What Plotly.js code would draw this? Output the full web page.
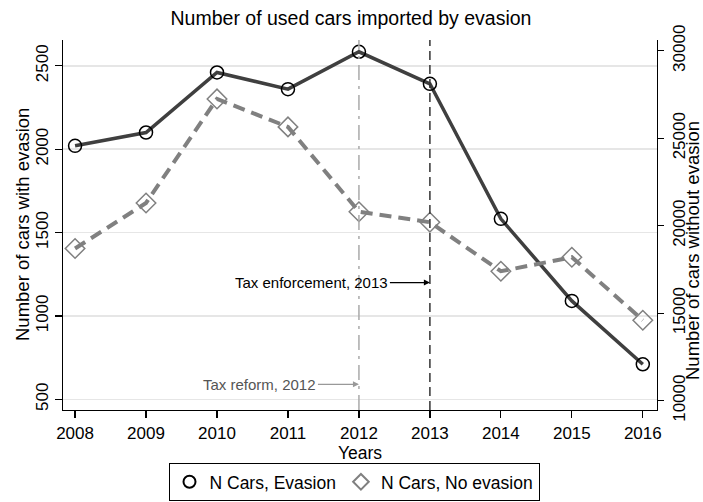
<!DOCTYPE html>
<html>
<head>
<meta charset="utf-8">
<script src="https://cdn.plot.ly/plotly-3.0.1.min.js"></script>
<style>html,body{margin:0;padding:0;background:#fff;}#chart{width:703px;height:502px;}</style>
</head>
<body>
<div id="chart"></div>
<script>
const years = [2008, 2009, 2010, 2011, 2012, 2013, 2014, 2015, 2016];
const carsEvasion = [2020, 2100, 2460, 2360, 2584, 2392, 1582, 1090, 710];
const carsNoEvasion = [18700, 21300, 27250, 25650, 20800, 20200, 17400, 18200, 14600];
const leftTicks = [500, 1000, 1500, 2000, 2500];
const rightTicks = [10000, 15000, 20000, 25000, 30000];
const eventYears = [2012, 2013];
const eventLabels = ['Tax reform, 2012', 'Tax enforcement, 2013'];
const eventLabelLevels = [590, 1200];
const seriesNames = ['N Cars, Evasion', 'N Cars, No evasion'];
const axisTitles = ['Number of cars with evasion', 'Number of cars without evasion'];

const FONT = 'Liberation Sans, Arial, sans-serif';

const traces = [
  {
    x: years, y: carsEvasion, type: 'scatter', mode: 'lines+markers',
    name: seriesNames[0], showlegend: false, yaxis: 'y',
    line: {color: '#3f3f3f', width: 3.5},
    marker: {symbol: 'circle-open', size: 13, color: '#000', line: {width: 1.5}}
  },
  {
    x: years, y: carsNoEvasion, type: 'scatter', mode: 'lines+markers',
    name: seriesNames[1], showlegend: false, yaxis: 'y2',
    line: {color: '#808080', width: 4, dash: '12px,7px'},
    marker: {symbol: 'diamond-open', size: 15, color: '#808080', line: {width: 1.5}}
  },
  {
    x: [null], y: [null], type: 'scatter', mode: 'markers', name: seriesNames[0],
    marker: {symbol: 'circle-open', size: 12, color: '#000', line: {width: 1.5}}
  },
  {
    x: [null], y: [null], type: 'scatter', mode: 'markers', name: seriesNames[1],
    marker: {symbol: 'diamond-open', size: 15, color: '#808080', line: {width: 1.3}}
  }
];

const shapes = [
  {type: 'line', xref: 'x', yref: 'paper', x0: eventYears[0], x1: eventYears[0], y0: 0, y1: 1,
   line: {color: '#aaaaaa', width: 1.5, dash: 'longdashdot'}},
  {type: 'line', xref: 'x', yref: 'paper', x0: eventYears[1], x1: eventYears[1], y0: 0, y1: 1,
   line: {color: '#333333', width: 1.5, dash: '9px,5px'}}
];

const annotations = [
  {x: eventYears[0], y: eventLabelLevels[0], xref: 'x', yref: 'y', text: eventLabels[0],
   showarrow: true, ax: -99, ay: 0, arrowhead: 2, arrowsize: 1, arrowwidth: 1.2,
   arrowcolor: '#999999', font: {family: FONT, size: 15, color: '#555555'}},
  {x: eventYears[1], y: eventLabelLevels[1], xref: 'x', yref: 'y', text: eventLabels[1],
   showarrow: true, ax: -118, ay: 0, arrowhead: 2, arrowsize: 1, arrowwidth: 1.2,
   arrowcolor: '#000000', font: {family: FONT, size: 15, color: '#000000'}},
  {x: (22 - 63) / 594, y: 0.5, xref: 'paper', yref: 'paper', text: axisTitles[0],
   showarrow: false, textangle: -90, xanchor: 'center', yanchor: 'middle',
   font: {family: FONT, size: 18.5, color: '#000'}},
  {x: (693 - 63) / 594, y: (410 - 251) / 370, xref: 'paper', yref: 'paper', text: axisTitles[1],
   showarrow: false, textangle: -90, xanchor: 'center', yanchor: 'middle',
   font: {family: FONT, size: 18.5, color: '#000'}}
];

const layout = {
  width: 703, height: 502,
  margin: {l: 63, r: 46, t: 40, b: 92, autoexpand: false},
  paper_bgcolor: '#fff', plot_bgcolor: '#fff',
  font: {family: FONT, size: 17, color: '#000'},
  title: {text: 'Number of used cars imported by evasion', font: {family: FONT, size: 19.5, color: '#000'},
          x: 351 / 703, xanchor: 'center', xref: 'container', y: 0.963, yanchor: 'middle'},
  xaxis: {
    range: [2007.83, 2016.2], tickvals: years, ticktext: years.map(String),
    showline: true, linecolor: '#000', linewidth: 1.3, showgrid: false, zeroline: false,
    ticks: 'outside', ticklen: 7, tickcolor: '#000', tickwidth: 1.2,
    tickfont: {family: FONT, size: 17, color: '#000'},
    title: {text: 'Years', font: {family: FONT, size: 17.5, color: '#000'}, standoff: 2}
  },
  yaxis: {
    range: [435.8, 2654.7], tickvals: leftTicks, ticktext: leftTicks.map(String),
    showline: true, linecolor: '#000', linewidth: 1.3, zeroline: false,
    showgrid: true, gridcolor: '#e6e6e6', gridwidth: 1.5,
    ticks: 'outside', ticklen: 7, tickcolor: '#000', tickwidth: 1.2, tickangle: -90,
    tickfont: {family: FONT, size: 17, color: '#000'}
  },
  yaxis2: {
    overlaying: 'y', side: 'right',
    range: [9468, 30617], tickvals: rightTicks, ticktext: rightTicks.map(String),
    showline: true, linecolor: '#000', linewidth: 1.3, zeroline: false, showgrid: false,
    ticks: 'outside', ticklen: 6, tickcolor: '#000', tickwidth: 1.2, tickangle: -90,
    tickfont: {family: FONT, size: 17, color: '#000'}
  },
  showlegend: true,
  legend: {
    orientation: 'h', x: 354 / 703, xanchor: 'center', xref: 'container', y: -0.143, yanchor: 'top',
    bordercolor: '#000', borderwidth: 1, bgcolor: '#fff',
    font: {family: FONT, size: 17.5, color: '#000'}, itemsizing: 'constant', tracegroupgap: 0
  },
  shapes: shapes,
  annotations: annotations
};

Plotly.newPlot('chart', traces, layout, {displayModeBar: false, staticPlot: true});
</script>
</body>
</html>
